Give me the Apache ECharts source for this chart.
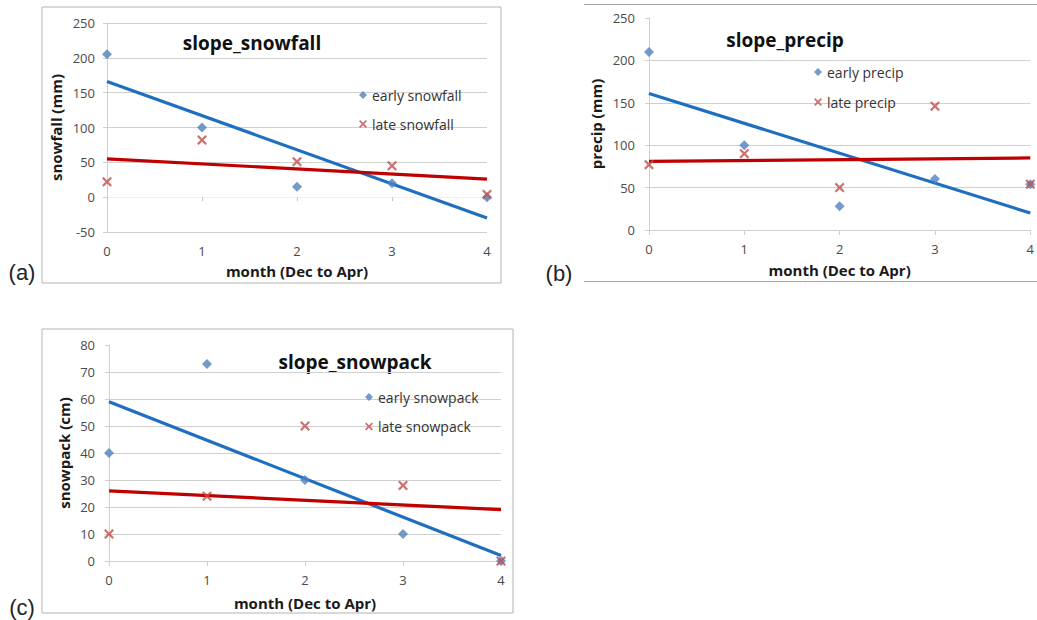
<!DOCTYPE html>
<html>
<head>
<meta charset="utf-8">
<script src="https://cdn.jsdelivr.net/npm/echarts@6/dist/echarts.min.js"></script>
<style>
html,body{margin:0;padding:0;background:#fff;}
#c{width:1037px;height:620px;}
</style>
</head>
<body>
<div id="c"></div>
<script>
// ---- data ----
const months = [0, 1, 2, 3, 4];
const trendMonths = [0, 4];

const earlySnowfall = [205, 100, 15, 20, 0];
const lateSnowfall = [22, 82, 51, 45, 4];
const trendEarlySnowfall = [166, -30];
const trendLateSnowfall = [55, 26];

const earlyPrecip = [210, 100, 28, 60, 54];
const latePrecip = [77, 90, 50, 146, 54];
const trendEarlyPrecip = [161, 20];
const trendLatePrecip = [81, 85];

const earlySnowpack = [40, 73, 30, 10, 0];
const lateSnowpack = [10, 24, 50, 28, 0];
const trendEarlySnowpack = [59, 2];
const trendLateSnowpack = [26, 19];

const panelTitles = ['slope_snowfall', 'slope_precip', 'slope_snowpack'];
const panelTags = ['(a)', '(b)', '(c)'];
const yNames = ['snowfall (mm)', 'precip (mm)', 'snowpack (cm)'];
const xName = 'month (Dec to Apr)';
const legendNames = [
  ['early snowfall', 'late snowfall'],
  ['early precip', 'late precip'],
  ['early snowpack', 'late snowpack']
];
const yRanges = [[-50, 250, 50], [0, 250, 50], [0, 80, 10]];

// ---- styling ----
const FONT = '"Open Sans", Lato, sans-serif';
const BLUE_M = '#4F81BD';
const RED_M = '#C0504D';
const BLUE_L = '#1F6FC1';
const RED_L = '#C00000';
const GRID_C = '#cfcfcf';
const XPATH = 'path://M0,1.6 L1.6,0 L5,3.4 L8.4,0 L10,1.6 L6.6,5 L10,8.4 L8.4,10 L5,6.6 L1.6,10 L0,8.4 L3.4,5 Z';

const pairs = (xs, ys) => xs.map((x, i) => [x, ys[i]]);

const grids = [
  {left: 107, top: 23, width: 380, height: 209},
  {left: 649, top: 18, width: 383, height: 212},
  {left: 109, top: 345, width: 392, height: 216}
];

const labelStyle = {color: '#4a4a4a', fontFamily: FONT, fontSize: 13};
const nameStyle = {color: '#1a1a1a', fontFamily: FONT, fontSize: 15, fontWeight: 'bold'};

const xAxes = [];
const yAxes = [];
const yNameGaps = [44, 46, 38];
const yLabelMargins = [12, 14, 14];
const xNameGaps = [31, 32, 34];

// Panel (a): tick axis on zero (no labels) + label axis at bottom
xAxes.push({
  gridIndex: 0, type: 'value', min: 0, max: 4, interval: 1,
  axisLine: {show: true, onZero: true, lineStyle: {color: '#f0f0f0'}},
  axisTick: {show: true, length: 4, lineStyle: {color: '#c8c8c8'}},
  axisLabel: {show: false}, splitLine: {show: false}
});
xAxes.push({
  gridIndex: 0, type: 'value', min: 0, max: 4, interval: 1, position: 'bottom',
  axisLine: {show: false, onZero: false}, axisTick: {show: false},
  axisLabel: Object.assign({margin: 12}, labelStyle), splitLine: {show: false},
  name: xName, nameLocation: 'middle', nameGap: xNameGaps[0], nameTextStyle: nameStyle
});
for (let g = 1; g < 3; g++) {
  xAxes.push({
    gridIndex: g, type: 'value', min: 0, max: 4, interval: 1,
    axisLine: {show: true, onZero: false, lineStyle: {color: GRID_C}},
    axisTick: {show: true, length: 5, lineStyle: {color: GRID_C}},
    axisLabel: Object.assign({margin: 12}, labelStyle), splitLine: {show: false},
    name: xName, nameLocation: 'middle', nameGap: xNameGaps[g], nameTextStyle: nameStyle
  });
}
for (let g = 0; g < 3; g++) {
  const r = yRanges[g];
  const split = g === 0
    ? {show: true, lineStyle: {color: [GRID_C, '#f3f3f3', GRID_C, GRID_C, GRID_C, GRID_C, GRID_C]}}
    : {show: true, showMaxLine: false, lineStyle: {color: GRID_C}};
  yAxes.push({
    gridIndex: g, type: 'value', min: r[0], max: r[1], interval: r[2],
    axisLine: {show: true, onZero: false, lineStyle: {color: GRID_C}},
    axisTick: {show: true, length: 4, lineStyle: {color: GRID_C}},
    axisLabel: Object.assign({margin: yLabelMargins[g]}, labelStyle),
    splitLine: split,
    name: yNames[g], nameLocation: 'middle', nameGap: yNameGaps[g], nameTextStyle: nameStyle
  });
}

const seriesSets = [
  [earlySnowfall, lateSnowfall, trendEarlySnowfall, trendLateSnowfall, 0],
  [earlyPrecip, latePrecip, trendEarlyPrecip, trendLatePrecip, 2],
  [earlySnowpack, lateSnowpack, trendEarlySnowpack, trendLateSnowpack, 3]
];
const series = [];
seriesSets.forEach((s, g) => {
  const xi = s[4];
  series.push({type: 'line', xAxisIndex: xi, yAxisIndex: g, data: pairs(trendMonths, s[2]),
    showSymbol: false, symbol: 'none', silent: true, z: 2,
    lineStyle: {color: BLUE_L, width: 3.2}});
  series.push({type: 'line', xAxisIndex: xi, yAxisIndex: g, data: pairs(trendMonths, s[3]),
    showSymbol: false, symbol: 'none', silent: true, z: 2,
    lineStyle: {color: RED_L, width: 3.2}});
  series.push({type: 'scatter', name: legendNames[g][0], xAxisIndex: xi, yAxisIndex: g,
    data: pairs(months, s[0]), symbol: 'diamond', symbolSize: 10, z: 3,
    itemStyle: {color: BLUE_M}});
  series.push({type: 'scatter', name: legendNames[g][1], xAxisIndex: xi, yAxisIndex: g,
    data: pairs(months, s[1]), symbol: XPATH, symbolSize: 10, z: 4,
    itemStyle: {color: RED_M}});
});

const legendPos = [
  {left: 359, top: 88, itemGap: 15},
  {left: 814, top: 65, itemGap: 16},
  {left: 365, top: 390, itemGap: 15.5}
];
const legends = legendPos.map((p, g) => ({
  data: legendNames[g], orient: 'vertical', left: p.left, top: p.top, itemGap: p.itemGap,
  padding: 0, itemWidth: 8, itemHeight: 8, itemStyle: {borderWidth: 0},
  textStyle: {color: '#333', fontFamily: FONT, fontSize: 14}, selectedMode: false
}));

const titlePos = [[252, 43], [785, 40], [355, 362]];
const tagPos = [[22, 272], [559, 273], [22, 607]];

const graphic = [
  {type: 'rect', shape: {x: 42, y: 7, width: 459, height: 276}, style: {fill: 'none', stroke: '#b4b4b4', lineWidth: 1}, z: 0, silent: true},
  {type: 'line', shape: {x1: 584, y1: 4.5, x2: 1037, y2: 4.5}, style: {stroke: '#a8a8a8', lineWidth: 1}, silent: true},
  {type: 'line', shape: {x1: 584, y1: 281.5, x2: 1037, y2: 281.5}, style: {stroke: '#a8a8a8', lineWidth: 1}, silent: true},
  {type: 'rect', shape: {x: 42, y: 329, width: 471, height: 284}, style: {fill: 'none', stroke: '#b4b4b4', lineWidth: 1}, z: 0, silent: true}
];
titlePos.forEach((p, g) => graphic.push({
  type: 'text', x: p[0], y: p[1], silent: true,
  style: {text: panelTitles[g], fill: '#111', font: 'bold 19px ' + FONT, textAlign: 'center', textVerticalAlign: 'middle'}
}));
tagPos.forEach((p, g) => graphic.push({
  type: 'text', x: p[0], y: p[1], silent: true,
  style: {text: panelTags[g], fill: '#222', font: '22px "Liberation Sans", Arial, sans-serif', textAlign: 'center', textVerticalAlign: 'middle'}
}));

const chart = echarts.init(document.getElementById('c'), null, {renderer: 'svg', width: 1037, height: 620});
chart.setOption({
  animation: false,
  backgroundColor: '#ffffff',
  grid: grids,
  xAxis: xAxes,
  yAxis: yAxes,
  legend: legends,
  series: series,
  graphic: graphic
});
</script>
</body>
</html>
